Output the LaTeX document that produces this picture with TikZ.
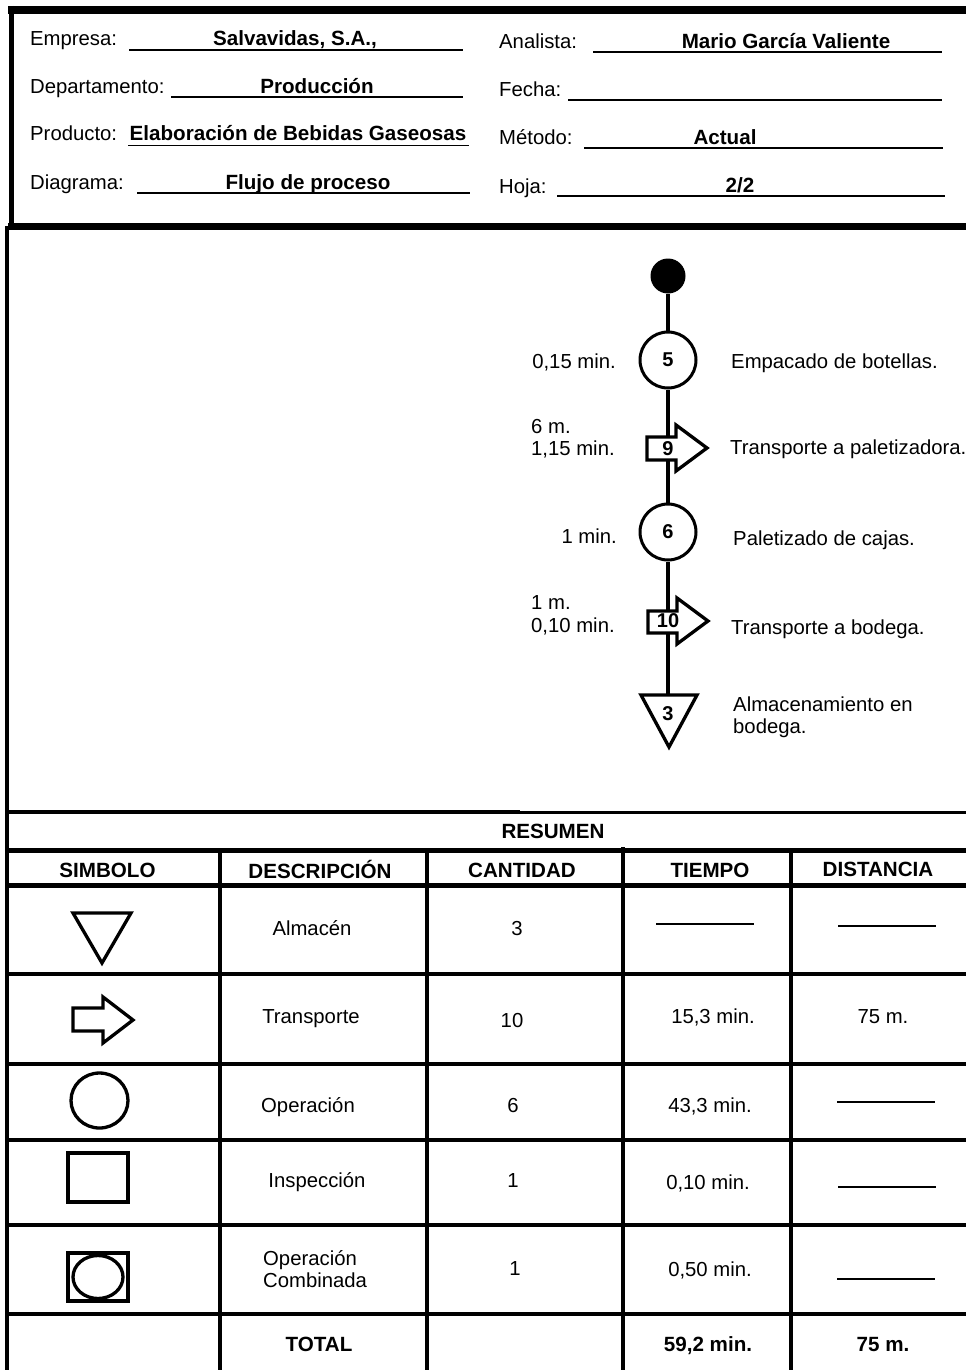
\documentclass[tikz,border=0pt]{standalone}
\usepackage{fontspec}
\setmainfont{Liberation Sans}
\usetikzlibrary{backgrounds}
\begin{document}
\begin{tikzpicture}[x=1pt,y=-1pt,
  lbl/.style={inner sep=0pt, font=\fontsize{20.3}{23}\selectfont},
  val/.style={inner sep=0pt, font=\fontsize{20.6}{23}\selectfont\bfseries},
  num/.style={inner sep=0pt, font=\fontsize{20}{22}\selectfont\bfseries},
  fieldline/.style={line width=1.8pt},
  grid/.style={line width=4pt},
  flow/.style={line width=4pt},
  sym/.style={line width=3.3pt, line join=miter},
  opcircle/.style={circle, draw, line width=3pt, fill=white, minimum size=56pt,
    inner sep=0pt, font=\fontsize{20}{22}\selectfont\bfseries},
  blank/.style={line width=1.4pt}
]
\useasboundingbox (0,0) rectangle (966,1370);
\begin{scope}[on background layer]
  \fill[white] (0,0) rectangle (966,1370);
\end{scope}

% ---------- header frame ----------
\draw[line width=8pt] (8,10) -- (966,10);
\draw[line width=7pt] (8,226.5) -- (966,226.5);
\draw[line width=5pt] (11,6) -- (11,230);
\draw[line width=4pt] (7,226) -- (7,1370);

% ---------- header fields ----------
\node[lbl, anchor=base west] (empL) at (30,46) {Empresa:};
\draw[fieldline] (129,50) -- (463,50);
\node[val, anchor=base] (empV) at (295,46) {Salvavidas, S.A.,};

\node[lbl, anchor=base west] (depL) at (30,94) {Departamento:};
\draw[fieldline] (171,97) -- (463,97);
\node[val, anchor=base] (depV) at (317,94) {Producción};

\node[lbl, anchor=base west] (proL) at (30,141) {Producto:};
\node[val, anchor=base] (proV) at (298,141) {Elaboración de Bebidas Gaseosas};
\draw[fieldline] (128,145.5) -- (469,145.5);

\node[lbl, anchor=base west] (diaL) at (30,189) {Diagrama:};
\draw[fieldline] (137,193) -- (470,193);
\node[val, anchor=base] (diaV) at (308,189) {Flujo de proceso};

\node[lbl, anchor=base west] (anaL) at (499,49) {Analista:};
\draw[fieldline] (593,52) -- (942,52);
\node[val, anchor=base] (anaV) at (786,49) {Mario García Valiente};

\node[lbl, anchor=base west] (fecL) at (499,97) {Fecha:};
\draw[fieldline] (568,100) -- (942,100);

\node[lbl, anchor=base west] (metL) at (499,145) {Método:};
\draw[fieldline] (584,148) -- (943,148);
\node[val, anchor=base] (metV) at (725,145) {Actual};

\node[lbl, anchor=base west] (hojL) at (499,193) {Hoja:};
\draw[fieldline] (557,196) -- (945,196);
\node[val, anchor=base] (hojV) at (740,192) {2/2};

% ---------- process flow ----------
\node[circle, fill=black, minimum size=35pt, inner sep=0pt] (start) at (668,276) {};
\node[opcircle] (op5) at (668,360) {5};

\filldraw[sym, fill=white] (647,437) -- (676,437) -- (676,425) -- (707,448)
  -- (676,471) -- (676,460) -- (647,460) -- cycle;
\node[num] (tr9) at (668,449) {9};

\node[opcircle] (op6) at (668,532) {6};

\filldraw[sym, fill=white] (648,611) -- (677,611) -- (677,598) -- (708,621)
  -- (677,644) -- (677,633) -- (648,633) -- cycle;
\node[num] (tr10) at (668,621) {10};

\filldraw[sym, fill=white] (641,695) -- (697,695) -- (669,747) -- cycle;
\node[num] (st3) at (668,713.5) {3};

\begin{scope}[on background layer]
  \draw[flow] (start) -- (op5);
  \draw[flow] (op5) -- (tr9);
  \draw[flow] (tr9) -- (op6);
  \draw[flow] (op6) -- (tr10);
  \draw[flow] (tr10) -- (st3);
\end{scope}

% step annotations
\node[lbl, anchor=base east] (t5) at (616,368) {0,15 min.};
\node[lbl, anchor=base west] (d5) at (731,368) {Empacado de botellas.};
\node[lbl, anchor=base west] (t9a) at (531,433) {6 m.};
\node[lbl, anchor=base west] (t9b) at (531,455) {1,15 min.};
\node[lbl, anchor=base west] (d9) at (730,454) {Transporte a paletizadora.};
\node[lbl, anchor=base east] (t6) at (617,543) {1 min.};
\node[lbl, anchor=base west] (d6) at (733,545) {Paletizado de cajas.};
\node[lbl, anchor=base west] (t10a) at (531,609) {1 m.};
\node[lbl, anchor=base west] (t10b) at (531,632) {0,10 min.};
\node[lbl, anchor=base west] (d10) at (731,634) {Transporte a bodega.};
\node[lbl, anchor=base west] (d3a) at (733,711) {Almacenamiento en};
\node[lbl, anchor=base west] (d3b) at (733,733) {bodega.};

% ---------- summary table ----------
\draw[line width=4pt] (7,812) -- (520,812);
\draw[line width=3pt] (520,812) -- (966,812);
\node[val, anchor=base] (resumen) at (553,838) {RESUMEN};
\draw[grid, line width=5pt] (7,850.5) -- (966,850.5);
\draw[grid, line width=5pt] (7,885.5) -- (966,885.5);
\foreach \yy in {973.5,1063.5,1140,1225,1314}
  \draw[grid] (7,\yy) -- (966,\yy);
\foreach \xx in {219.5,426.5,790.5}
  \draw[grid] (\xx,850) -- (\xx,1370);
\draw[grid] (623,847) -- (623,1370);

\node[val, anchor=base] (hSim) at (107.5,877) {SIMBOLO};
\node[val, anchor=base] (hDes) at (320,878) {DESCRIPCIÓN};
\node[val, anchor=base] (hCan) at (522,877) {CANTIDAD};
\node[val, anchor=base] (hTie) at (710,877) {TIEMPO};
\node[val, anchor=base] (hDis) at (878,876) {DISTANCIA};

% storage
\draw[sym] (73,913) -- (131,913) -- (102,963) -- cycle;
\node[lbl, anchor=base] (r1d) at (312,935) {Almacén};
\node[lbl, anchor=base] (r1c) at (517,935) {3};
\draw[blank] (656,924) -- (754,924);
\draw[blank] (838,926) -- (936,926);

% transport
\draw[sym] (73,1008) -- (103,1008) -- (103,997) -- (133,1020) -- (103,1043)
  -- (103,1031) -- (73,1031) -- cycle;
\node[lbl, anchor=base] (r2d) at (311,1023) {Transporte};
\node[lbl, anchor=base] (r2c) at (512,1027) {10};
\node[lbl, anchor=base] (r2t) at (713,1023) {15,3 min.};
\node[lbl, anchor=base] (r2k) at (883,1023) {75 m.};

% operation
\draw[sym] (99.5,1100.5) ellipse [x radius=28.5, y radius=27.5];
\node[lbl, anchor=base] (r3d) at (308,1112) {Operación};
\node[lbl, anchor=base] (r3c) at (513,1112) {6};
\node[lbl, anchor=base] (r3t) at (710,1112) {43,3 min.};
\draw[blank] (837,1102) -- (935,1102);

% inspection
\draw[sym] (68,1153) rectangle (128,1202);
\node[lbl, anchor=base] (r4d) at (317,1187) {Inspección};
\node[lbl, anchor=base] (r4c) at (513,1187) {1};
\node[lbl, anchor=base] (r4t) at (708,1189) {0,10 min.};
\draw[blank] (838,1187) -- (936,1187);

% combined operation
\draw[sym] (68,1253) rectangle (128,1301);
\draw[sym] (98,1277) ellipse [x radius=25, y radius=21.5];
\node[lbl, anchor=base west] (r5d1) at (263,1265) {Operación};
\node[lbl, anchor=base west] (r5d2) at (263,1287) {Combinada};
\node[lbl, anchor=base] (r5c) at (515,1275) {1};
\node[lbl, anchor=base] (r5t) at (710,1276) {0,50 min.};
\draw[blank] (837,1279) -- (935,1279);

% totals
\node[val, anchor=base] (tot) at (319,1351) {TOTAL};
\node[val, anchor=base] (totT) at (708,1351) {59,2 min.};
\node[val, anchor=base] (totD) at (883,1351) {75 m.};
\end{tikzpicture}
\end{document}
